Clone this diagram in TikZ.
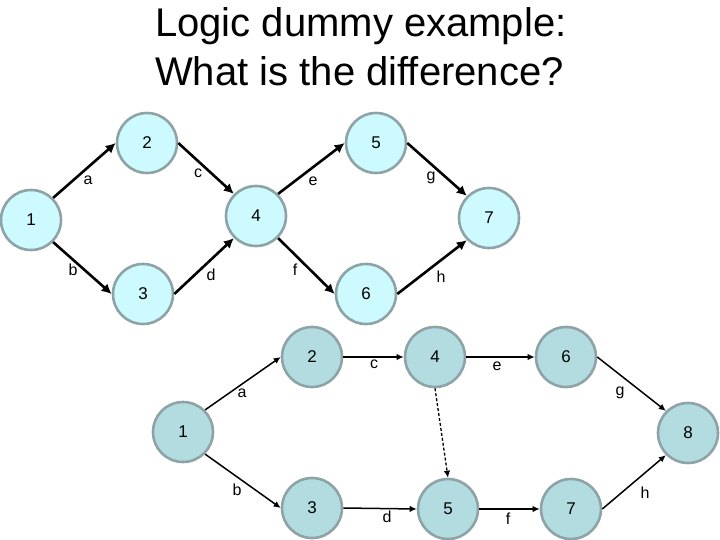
\documentclass[tikz,border=0pt]{standalone}
\usepackage{fontspec}
\setmainfont{Liberation Sans}
\usetikzlibrary{arrows.meta}
\definecolor{eventrim}{HTML}{8EA3A6}
\definecolor{eventtop}{HTML}{CCFAFE}
\definecolor{eventbot}{HTML}{B2DCE0}
\tikzset{
  title text/.style={font=\fontsize{40}{46}\selectfont, inner sep=0pt},
  event top/.style={circle, fill=eventtop, draw=eventrim, line width=2.6pt,
    minimum size=60pt, inner sep=0pt, font=\fontsize{17}{20}\selectfont},
  event bot/.style={circle, fill=eventbot, draw=eventrim, line width=2.6pt,
    minimum size=60pt, inner sep=0pt, font=\fontsize{17}{20}\selectfont},
  task top/.style={draw=black, line width=2.6pt,
    -{Latex[length=10pt, width=10pt]}},
  task bot/.style={draw=black, line width=1.5pt,
    -{Latex[length=7pt, width=6.5pt]}},
  dummy task/.style={task bot, line width=1.3pt, dash pattern=on 3pt off 2pt},
  activity label/.style={font=\fontsize{16}{19}\selectfont, inner sep=0pt},
}

\begin{document}
\begin{tikzpicture}[x=1pt, y=-1pt]
  \useasboundingbox (0,0) rectangle (720,540);

  % Title, two lines.
  \node[title text, anchor=base west] (title1) at (155,37) {Logic dummy example:};
  \node[title text, anchor=base west] (title2) at (155,86) {What is the difference?};

  % Upper network: activity-on-arrow without dummy.
  \node[event top] (t1) at (31,220) {1};
  \node[event top] (t2) at (147,143) {2};
  \node[event top] (t3) at (143,294) {3};
  \node[event top] (t4) at (256,216) {4};
  \node[event top] (t5) at (376,143) {5};
  \node[event top] (t6) at (366,294) {6};
  \node[event top] (t7) at (489,218) {7};
  \draw[task top] (t1.north east) -- (t2.west);
  \draw[task top] (t1.south east) -- (t3.west);
  \draw[task top] (t2.east) -- (t4.north west);
  \draw[task top] (t3.east) -- (t4.south west);
  \draw[task top] (t4.north east) -- (t5.west);
  \draw[task top] (t4.south east) -- (t6.west);
  \draw[task top] (t5.east) -- (t7.north west);
  \draw[task top] (t6.east) -- (t7.south west);
  \node[activity label] (ta) at (88,180) {a};
  \node[activity label] (tb) at (73,270) {b};
  \node[activity label] (tc) at (198,173) {c};
  \node[activity label] (td) at (211,275) {d};
  \node[activity label] (te) at (313,181) {e};
  \node[activity label] (tf) at (295,270) {f};
  \node[activity label] (tg) at (431,178) {g};
  \node[activity label] (th) at (441,277) {h};

  % Lower network: the dummy 4 -> 5 is dashed.
  \node[event bot] (b1) at (183,432) {1};
  \node[event bot] (b2) at (312,357) {2};
  \node[event bot] (b3) at (312,508) {3};
  \node[event bot] (b4) at (435,357) {4};
  \node[event bot] (b5) at (448,509) {5};
  \node[event bot] (b6) at (566,357) {6};
  \node[event bot] (b7) at (571,509) {7};
  \node[event bot] (b8) at (688,433) {8};
  \draw[task bot] (b1.north east) -- (b2.west);
  \draw[task bot] (b1.south east) -- (b3.west);
  \draw[task bot] (b2.east) -- (b4.west);
  \draw[task bot] (b3.east) -- (b5.west);
  \draw[dummy task] (b4.south) -- (b5.north);
  \draw[task bot] (b4.east) -- (b6.west);
  \draw[task bot] (b5.east) -- (b7.west);
  \draw[task bot] (b6.east) -- (b8.north west);
  \draw[task bot] (b7.east) -- (b8.south west);
  \node[activity label] (ba) at (242,393) {a};
  \node[activity label] (bb) at (237,490) {b};
  \node[activity label] (bc) at (374,364) {c};
  \node[activity label] (bd) at (387,517) {d};
  \node[activity label] (be) at (497,366) {e};
  \node[activity label] (bf) at (508,519) {f};
  \node[activity label] (bg) at (620,393) {g};
  \node[activity label] (bh) at (645,493) {h};
\end{tikzpicture}
\end{document}
